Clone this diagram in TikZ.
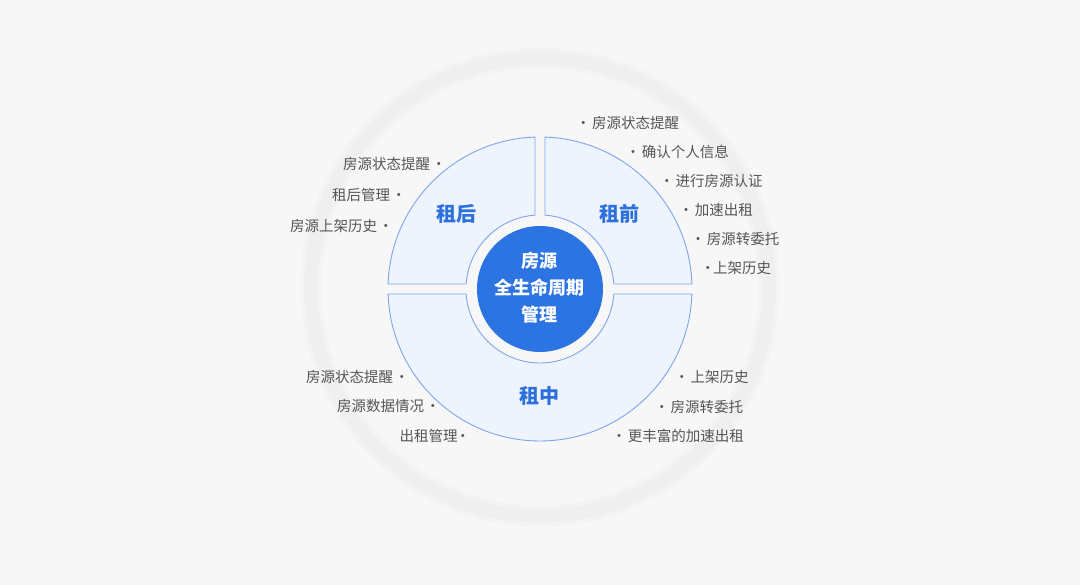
\documentclass[tikz,border=0pt]{standalone}
\usepackage{fontspec}
\setmainfont{Noto Sans CJK SC}
\usepackage{xcolor}

\definecolor{bgGray}{HTML}{F7F7F7}
\definecolor{ringGray}{HTML}{EFEFEF}
\definecolor{ringSoft}{HTML}{F3F3F3}
\definecolor{segFill}{HTML}{EEF4FE}
\definecolor{segLine}{HTML}{7DA5EC}
\definecolor{hubBlue}{HTML}{2B74E2}
\definecolor{segBlue}{HTML}{2C70DC}
\definecolor{lblGray}{HTML}{555555}

\tikzset{
  seg/.style={draw=segLine, fill=segFill, line width=0.9pt},
  segtext/.style={text=segBlue, font=\fontsize{20}{24}\selectfont\bfseries},
  lbl/.style={text=lblGray, font=\fontsize{14.5}{16}\selectfont, inner sep=0pt},
}

\begin{document}
\begin{tikzpicture}[x=1pt, y=1pt]
  % Canvas and background
  \useasboundingbox (-540,-296) rectangle (540,289);
  \fill[bgGray] (-540,-296) rectangle (540,289);

  % Faint outer ring
  \coordinate (ringC) at (0,2);
  \draw[ringSoft, line width=21pt] (ringC) circle[radius=229];
  \draw[ringGray, line width=13pt] (ringC) circle[radius=229];

  % Draw the three segments (outer radius 152, inner radius 74, gap 10)
  \draw[seg] (1.885:152) arc[start angle=1.885, end angle=88.115, radius=152]
    -- (86.126:74) arc[start angle=86.126, end angle=3.874, radius=74] -- cycle;
  \draw[seg] (91.885:152) arc[start angle=91.885, end angle=178.115, radius=152]
    -- (176.126:74) arc[start angle=176.126, end angle=93.874, radius=74] -- cycle;
  \draw[seg] (181.885:152) arc[start angle=181.885, end angle=358.115, radius=152]
    -- (356.126:74) arc[start angle=356.126, end angle=183.874, radius=74] -- cycle;

  % Central hub
  \node[circle, fill=hubBlue, minimum size=126pt, inner sep=0pt] (hub) at (0,0) {};
  \node[text=white, align=center, font=\fontsize{18}{27}\selectfont\bfseries] (hubtext) at (0,1)
    {房源\\全生命周期\\管理};

  % Segment titles
  \node[segtext] (after) at (-83,75) {租后};
  \node[segtext] (before) at (80,75) {租前};
  \node[segtext] (during) at (0,-107) {租中};

  % Labels on the upper left
  \node[lbl, anchor=east] (tl1) at (-93.75,125) {房源状态提醒\hspace{1.5pt}·};
  \node[lbl, anchor=east] (tl2) at (-133.75,94) {租后管理\hspace{1.5pt}·};
  \node[lbl, anchor=east] (tl3) at (-146.75,63) {房源上架历史\hspace{1.5pt}·};

  % Labels on the upper right
  \node[lbl, anchor=west] (tr1) at (36,166) {·\hspace{1.5pt}房源状态提醒};
  \node[lbl, anchor=west] (tr2) at (85.75,137) {·\hspace{1.5pt}确认个人信息};
  \node[lbl, anchor=west] (tr3) at (119.5,108) {·\hspace{1.5pt}进行房源认证};
  \node[lbl, anchor=west] (tr4) at (138.75,79) {·\hspace{1.5pt}加速出租};
  \node[lbl, anchor=west] (tr5) at (150.75,50) {·\hspace{1.5pt}房源转委托};
  \node[lbl, anchor=west] (tr6) at (160.5,21) {·\hspace{-2pt}上架历史};

  % Labels on the lower left
  \node[lbl, anchor=east] (bl1) at (-130.75,-88) {房源状态提醒\hspace{1.5pt}·};
  \node[lbl, anchor=east] (bl2) at (-99.75,-117) {房源数据情况\hspace{1.5pt}·};
  \node[lbl, anchor=east] (bl3) at (-69.75,-147) {出租管理\hspace{-2pt}·};

  % Labels on the lower right
  \node[lbl, anchor=west] (br1) at (134.5,-88) {·\hspace{1.5pt}上架历史};
  \node[lbl, anchor=west] (br2) at (114.5,-118) {·\hspace{1.5pt}房源转委托};
  \node[lbl, anchor=west] (br3) at (71.75,-147) {·\hspace{1.5pt}更丰富的加速出租};
\end{tikzpicture}
\end{document}
